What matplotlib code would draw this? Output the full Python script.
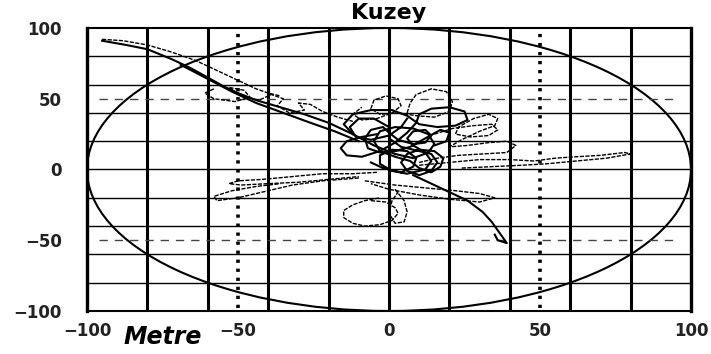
import matplotlib
matplotlib.use("Agg")
import matplotlib.pyplot as plt
from matplotlib.patches import Ellipse

# axis ticks and reference lines
x_ticks = [-100, -50, 0, 50, 100]
y_ticks = [-100, -50, 0, 50, 100]
grid_steps = [-80, -60, -40, -20, 0, 20, 40, 60, 80]
ref_radius = 100

# trajectory pieces (metres)
entry_upper = [(-95, 92), (-88, 91), (-80, 88), (-72, 83), (-64, 77), (-56, 69),
               (-50, 63), (-44, 57), (-40, 54), (-36, 52)]
entry_main = [(-95, 91), (-87, 88), (-80, 85), (-72, 78), (-66, 72), (-60, 65),
              (-55, 59), (-50, 54), (-44, 49), (-36, 44), (-28, 39), (-20, 33),
              (-12, 25), (-5, 17), (2, 11)]
entry_lower = [(-69, 74), (-60, 64), (-52, 55), (-44, 47), (-35, 40), (-26, 33),
               (-18, 27), (-10, 20)]
loops_left = [(-58, 57), (-61, 54), (-58, 50), (-51, 48), (-46, 51), (-48, 56),
              (-53, 58), (-49, 52), (-43, 49), (-39, 53), (-35, 50), (-37, 45),
              (-33, 40), (-28, 42), (-30, 47), (-26, 46), (-22, 41), (-17, 37),
              (-12, 34)]
center_a = [(2, 11), (8, 8), (13, 12), (15, 18), (13, 25), (8, 29), (2, 30),
            (-3, 27), (-5, 20), (-3, 13), (2, 9), (7, 6), (10, 1), (14, -2),
            (17, 2), (18, 8), (15, 13), (10, 14), (6, 11), (4, 5), (6, -1),
            (10, -4), (14, -1), (16, 5), (14, 11), (10, 13), (4, 16), (0, 22),
            (0, 30), (-5, 36), (-10, 36), (-13, 30), (-11, 23), (-6, 21),
            (0, 24), (4, 30), (6, 36)]
center_dense = [(-6, 5), (-2, 1), (4, -2), (8, 2), (9, 8), (6, 13), (1, 14),
                (-3, 10), (-3, 4), (1, -1), (6, -3), (12, 0), (14, 6), (12, 12),
                (8, 17), (6, 22), (8, 27), (12, 28), (14, 24), (12, 19), (8, 18),
                (3, 21), (0, 26), (-2, 30), (-6, 28), (-8, 22), (-7, 15),
                (-3, 12), (2, 13), (7, 16), (12, 22), (17, 28), (20, 26),
                (19, 20), (15, 17)]
center_b = [(-12, 25), (-15, 32), (-12, 39), (-6, 42), (1, 42), (6, 38),
            (10, 32), (16, 30), (22, 31), (26, 35), (25, 41), (20, 44),
            (14, 43), (10, 39), (9, 33), (6, 26), (2, 19), (-3, 13), (-9, 9),
            (-14, 10), (-16, 15), (-14, 20), (-9, 23), (-4, 25)]
center_top = [(6, 40), (7, 47), (9, 53), (14, 57), (19, 55), (21, 48), (20, 41),
              (15, 37), (9, 38), (3, 40), (-3, 39), (-6, 43), (-5, 49),
              (-1, 52), (3, 50), (4, 45), (1, 40), (-4, 36), (-9, 35),
              (-12, 39), (-9, 44)]
center_right = [(15, 25), (21, 29), (28, 31), (34, 32), (36, 28), (33, 24),
                (27, 23), (22, 25), (23, 30), (28, 36), (33, 39), (36, 36),
                (35, 31), (30, 27), (24, 21), (20, 16), (26, 17), (33, 19),
                (39, 20), (42, 17), (39, 12), (31, 11), (23, 10), (16, 8),
                (10, 5)]
arm_right = [(10, 3), (20, 5), (30, 7), (40, 7), (48, 6), (55, 8), (62, 9),
             (70, 10), (78, 12), (80, 11), (72, 8), (62, 6), (52, 4), (44, 3),
             (34, 2), (24, 1)]
arm_down = [(8, -4), (14, -10), (20, -16), (26, -22), (31, -30), (34, -37),
            (36, -43), (38, -49), (39, -52), (36, -50), (35, -46)]
arm_loop = [(-8, -8), (2, -11), (12, -13), (22, -15), (30, -17), (35, -20),
            (30, -23), (20, -21), (10, -18), (0, -14), (-6, -10)]
loop_bottom = [(-6, -22), (-1, -23), (2, -27), (3, -31), (1, -36), (-3, -39),
               (-8, -40), (-12, -38), (-15, -34), (-15, -29), (-12, -25),
               (-8, -22), (-3, -20)]
loop_narrow = [(2, -14), (5, -22), (6, -30), (5, -37), (2, -38), (0, -31),
               (1, -22), (3, -16)]
arm_left = [(-4, -2), (-12, -3), (-22, -3), (-32, -5), (-42, -7), (-50, -8),
            (-53, -10), (-49, -11), (-40, -10), (-30, -9), (-20, -7), (-10, -5)]
arm_left_low = [(-10, -6), (-22, -8), (-32, -11), (-42, -16), (-50, -20),
                (-57, -22), (-58, -19), (-52, -15), (-44, -12), (-36, -10)]

solid_parts = [entry_main, entry_lower, center_a, center_dense, center_b, arm_down]
dashed_parts = [entry_upper, loops_left, center_top, center_right, arm_right,
                arm_loop, loop_bottom, loop_narrow, arm_left, arm_left_low]

fig = plt.figure(figsize=(7.11, 3.54), dpi=100)
ax = fig.add_axes([0.1224, 0.1215, 0.8495, 0.7994])
ax.set_xlim(-100, 100)
ax.set_ylim(-100, 100)

# grid: heavy verticals, light horizontals
for g in grid_steps:
    ax.axvline(g, color="black", lw=2.2, zorder=1)
    ax.axhline(g, color="black", lw=1.0, zorder=1)

ax.add_patch(Ellipse((0, 0), 2 * ref_radius, 2 * ref_radius, fill=False,
                     edgecolor="black", lw=1.5, zorder=2))

for v in (-50, 50):
    ax.plot([v, v], [-98, 97], color="black", lw=2.6,
            linestyle=(0, (0.9, 1.6)), zorder=3)
    ax.plot([-96, 96], [v, v], color="#444444", lw=1.0,
            linestyle=(0, (6, 5)), zorder=3)

for part in solid_parts:
    xs, ys = zip(*part)
    ax.plot(xs, ys, color="black", lw=1.5, zorder=4)
for part in dashed_parts:
    xs, ys = zip(*part)
    ax.plot(xs, ys, color="black", lw=1.0, linestyle=(0, (3, 1)), zorder=4)

for side in ("left", "right"):
    ax.spines[side].set_linewidth(2.4)
for side in ("top", "bottom"):
    ax.spines[side].set_linewidth(1.5)

ax.set_xticks(x_ticks)
ax.set_yticks(y_ticks)
ax.set_xticklabels(["\u2212100", "\u221250", "0", "50", "100"])
ax.set_yticklabels(["\u2212100", "\u221250", "0", "50", "100"])
ax.tick_params(length=0, labelsize=12)
ax.tick_params(axis="y", pad=18)
ax.tick_params(axis="x", pad=8)
for lab in ax.get_xticklabels() + ax.get_yticklabels():
    lab.set_fontweight("bold")
    lab.set_color("#222222")

fig.text(0.546, 0.962, "Kuzey", ha="center", va="center",
         fontsize=16, fontweight="bold")
fig.text(0.229, 0.048, "Metre", ha="center", va="center",
         fontsize=17, fontweight="bold", fontstyle="italic")

plt.savefig("out.png", dpi=100)
